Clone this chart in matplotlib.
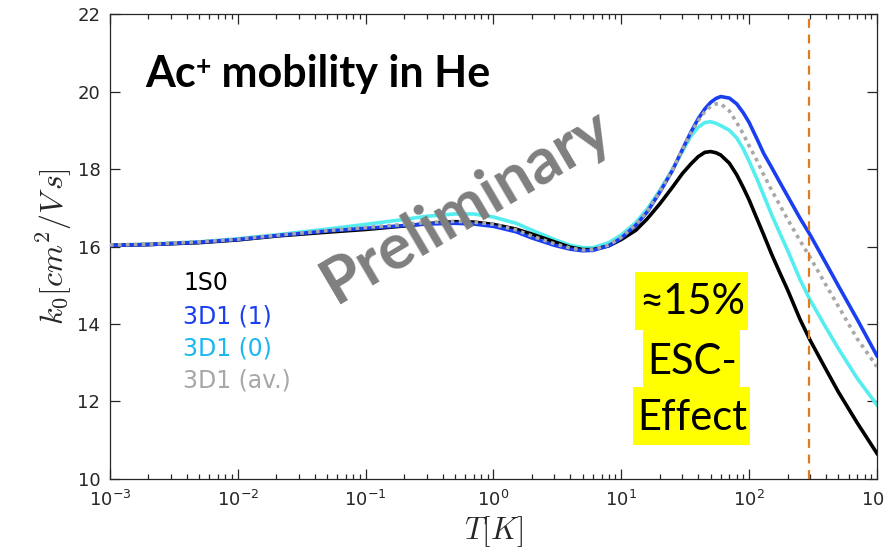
import numpy as np
import matplotlib
matplotlib.use("Agg")
import matplotlib.pyplot as plt
from matplotlib.patches import Rectangle

# ---------------- data ----------------
T = [0.001, 0.002, 0.005, 0.01, 0.02, 0.05, 0.1, 0.2, 0.3, 0.5, 0.7, 1, 1.5, 2, 3, 4, 5, 6,
     8, 10, 13, 16, 20, 25, 30, 35, 40, 45, 50, 55, 60, 70, 80, 90, 100, 115, 130, 150,
     175, 200, 250, 300, 400, 500, 700, 1000]

k_1S0 = [16.03, 16.05, 16.10, 16.17, 16.27, 16.37, 16.44, 16.53, 16.59, 16.64, 16.63, 16.57,
         16.45, 16.32, 16.12, 15.98, 15.92, 15.92, 16.02, 16.18, 16.42, 16.72, 17.10, 17.52,
         17.88, 18.13, 18.32, 18.43, 18.45, 18.42, 18.36, 18.15, 17.85, 17.52, 17.20, 16.72,
         16.30, 15.80, 15.30, 14.88, 14.12, 13.58, 12.82, 12.24, 11.45, 10.66]

k_3D1_1 = [16.03, 16.05, 16.11, 16.18, 16.28, 16.40, 16.47, 16.54, 16.58, 16.60, 16.58, 16.52,
           16.38, 16.22, 16.03, 15.93, 15.89, 15.90, 16.02, 16.22, 16.55, 16.90, 17.40, 17.95,
           18.50, 18.95, 19.30, 19.55, 19.72, 19.82, 19.87, 19.83, 19.68, 19.45, 19.20, 18.78,
           18.40, 18.04, 17.64, 17.30, 16.73, 16.30, 15.56, 14.98, 14.12, 13.18]

k_3D1_0 = [16.03, 16.06, 16.12, 16.20, 16.30, 16.45, 16.57, 16.70, 16.78, 16.84, 16.84, 16.76,
           16.60, 16.42, 16.18, 16.03, 15.97, 15.97, 16.10, 16.30, 16.62, 16.97, 17.45, 17.98,
           18.45, 18.85, 19.08, 19.20, 19.22, 19.18, 19.12, 19.00, 18.80, 18.52, 18.20, 17.75,
           17.32, 16.82, 16.32, 15.90, 15.15, 14.62, 13.90, 13.36, 12.60, 11.91]

k_3D1_av = [16.04, 16.06, 16.12, 16.19, 16.29, 16.41, 16.49, 16.57, 16.62, 16.65, 16.63, 16.57,
            16.43, 16.27, 16.07, 15.96, 15.91, 15.92, 16.04, 16.24, 16.57, 16.92, 17.42, 17.97,
            18.50, 18.93, 19.25, 19.48, 19.62, 19.68, 19.68, 19.50, 19.20, 18.90, 18.60, 18.22,
            17.85, 17.45, 17.05, 16.70, 16.15, 15.72, 15.00, 14.45, 13.62, 12.90]

T_room = 293

legend_labels = ["1S0", "3D1 (1)", "3D1 (0)", "3D1 (av.)"]
box_lines = ["\u224815%", "ESC-", "Effect"]

# ---------------- figure ----------------
fig = plt.figure(figsize=(8.87, 5.54), dpi=100)
ax = fig.add_axes([0.124, 0.1354, 0.8647, 0.8393])

lw = 2.6
ax.plot(T, k_1S0, color="#000000", lw=lw, zorder=3)
ax.plot(T, k_3D1_1, color="#1a3ff0", lw=lw, zorder=3)
ax.plot(T, k_3D1_0, color="#55eef0", lw=lw, zorder=2.5)
ax.plot(T, k_3D1_av, color="#a8a8a8", lw=lw, ls=(0, (1.0, 1.2)), zorder=4)
ax.axvline(T_room, color="#e07a1f", lw=1.6, ls=(0, (4, 3)), zorder=5)

ax.set_xscale("log")
ax.set_xlim(1e-3, 1e3)
ax.set_ylim(10, 22)
ax.set_yticks(np.arange(10, 23, 2))
ax.set_xticks([1e-3, 1e-2, 1e-1, 1e0, 1e1, 1e2, 1e3])

ax.tick_params(which="both", direction="in", top=True, right=True, colors="#262626",
               width=0.9)
ax.tick_params(which="major", length=7)
ax.tick_params(axis="x", which="major", pad=8)
ax.tick_params(axis="y", which="major", pad=7)
ax.tick_params(which="minor", length=3.5)
for lab in ax.get_xticklabels() + ax.get_yticklabels():
    lab.set_fontfamily("DejaVu Sans")
    lab.set_fontsize(13)
for s in ax.spines.values():
    s.set_color("#262626")
    s.set_linewidth(0.9)

ax.set_xlabel(r"$T[K]$", fontsize=22, math_fontfamily="cm", color="#262626", labelpad=3)
ax.set_ylabel(r"$k_0[cm^2/V\,s]$", fontsize=23, math_fontfamily="cm", color="#262626",
              labelpad=2)

# title
t1 = ax.text(0.0456, 0.8437, "Ac", transform=ax.transAxes, fontsize=31,
             fontweight="bold", family="Lato", va="baseline", ha="left", zorder=8)
t2 = ax.annotate("+", xy=(1.0, 0.97), xycoords=t1, fontsize=19, fontweight="bold",
                 family="Lato", va="top", ha="left", zorder=8)
t3 = ax.annotate(" mobility in He", xy=(1.0, 0.0), xycoords=(t2, t1), fontsize=31,
                 fontweight="bold", family="Lato", va="bottom", ha="left", zorder=8)

# legend as coloured text
leg_colors = ["#000000", "#1a3ff0", "#1bb8f0", "#a8a8a8"]
leg_y = [0.4215, 0.3505, 0.2796, 0.2108]
for lab, c, yy in zip(legend_labels, leg_colors, leg_y):
    ax.text(0.0952, yy, lab, transform=ax.transAxes, color=c, fontsize=17,
            family="DejaVu Sans", va="center", ha="left")

# Preliminary watermark
ax.text(0.477, 0.553, "Preliminary", transform=ax.transAxes, rotation=30.5,
        rotation_mode="anchor", fontsize=46, fontweight="bold", family="Lato",
        color="#7f7f7f", ha="center", va="baseline", zorder=6)

# yellow highlighted text
box_y = [0.3806, 0.2516, 0.1312]
box_edges = [(0.3204, 0.4452), (0.1978, 0.3204), (0.0731, 0.1978)]
texts = []
for txt, yy in zip(box_lines, box_y):
    texts.append(ax.text(0.7588, yy, txt, transform=ax.transAxes, fontsize=30,
                         family="Lato", color="black", ha="center", va="center",
                         zorder=8))
fig.canvas.draw()
renderer = fig.canvas.get_renderer()
inv = ax.transAxes.inverted()
for t, (y0, y1) in zip(texts, box_edges):
    bb = t.get_window_extent(renderer)
    (xa, _), (xb, _) = inv.transform([(bb.x0 - 4, 0), (bb.x1 + 3, 0)])
    ax.add_patch(Rectangle((xa, y0), xb - xa, y1 - y0, transform=ax.transAxes,
                           facecolor="#ffff00", edgecolor="none", zorder=7))

fig.savefig("out.png", dpi=100)
